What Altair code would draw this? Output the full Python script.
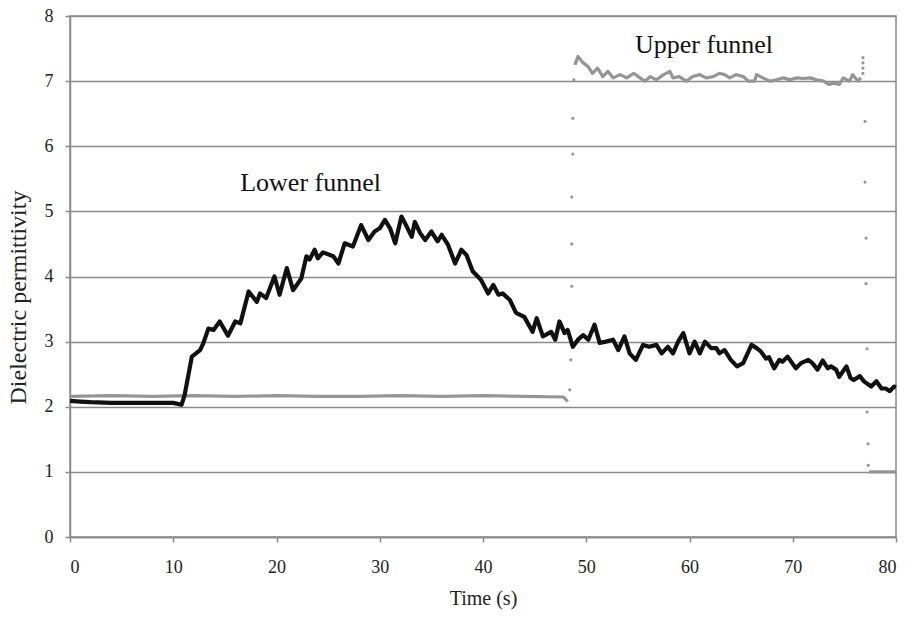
import altair as alt
import pandas as pd

# Lower funnel sensor (black trace): time (s) and permittivity
black_t = [0, 1, 2, 4, 6, 8, 10, 10.8, 11.1, 11.8, 12.6, 12.9, 13.4, 13.9, 14.5, 15.3,
           16.0, 16.5, 17.3, 18.1, 18.4, 19.0, 19.8, 20.3, 21.0, 21.6, 22.4, 22.9, 23.2,
           23.7, 24.0, 24.5, 25.5, 26.0, 26.6, 27.4, 28.2, 28.9, 29.5, 30.0, 30.5, 31.0,
           31.5, 32.1, 32.6, 33.1, 33.4, 33.9, 34.4, 35.0, 35.6, 36.0, 36.6, 37.3, 37.9,
           38.4, 39.0, 39.8, 40.5, 41.0, 41.5, 41.9, 42.6, 43.2, 44.0, 44.8, 45.2, 45.8,
           46.6, 47.0, 47.4, 47.9, 48.2, 48.7, 49.2, 49.7, 50.2, 50.8, 51.3, 51.9, 52.6,
           53.1, 53.7, 54.2, 54.8, 55.5, 56.1, 56.8, 57.3, 57.9, 58.4, 58.9, 59.4, 60.0,
           60.5, 61.0, 61.5, 62.1, 62.6, 62.9, 63.4, 64.0, 64.6, 65.2, 66.0, 66.5, 66.9,
           67.4, 67.7, 68.2, 68.7, 69.0, 69.5, 70.3, 70.8, 71.5, 71.9, 72.4, 72.9, 73.4,
           73.7, 74.2, 74.5, 75.2, 75.6, 75.9, 76.5, 76.9, 77.6, 78.1, 78.6, 79.0, 79.4,
           79.8, 80]
black_v = [2.09, 2.08, 2.07, 2.06, 2.06, 2.06, 2.06, 2.03, 2.18, 2.77, 2.87, 2.97, 3.20, 3.18,
           3.31, 3.09, 3.31, 3.28, 3.77, 3.61, 3.74, 3.67, 4.00, 3.72, 4.13, 3.79, 3.97, 4.31,
           4.26, 4.41, 4.28, 4.37, 4.31, 4.20, 4.51, 4.46, 4.79, 4.56, 4.69, 4.74, 4.87, 4.74,
           4.51, 4.92, 4.77, 4.61, 4.84, 4.67, 4.56, 4.69, 4.54, 4.64, 4.49, 4.20, 4.41, 4.33,
           4.08, 3.95, 3.74, 3.87, 3.72, 3.74, 3.64, 3.44, 3.38, 3.15, 3.36, 3.08, 3.15, 3.03,
           3.31, 3.13, 3.18, 2.92, 3.03, 3.10, 3.03, 3.26, 2.98, 3.00, 3.03, 2.87, 3.08, 2.82,
           2.72, 2.95, 2.92, 2.95, 2.82, 2.92, 2.82, 3.00, 3.13, 2.82, 3.00, 2.82, 3.00, 2.90,
           2.90, 2.82, 2.87, 2.72, 2.62, 2.67, 2.95, 2.90, 2.85, 2.74, 2.76, 2.59, 2.72, 2.69,
           2.77, 2.59, 2.67, 2.72, 2.67, 2.57, 2.71, 2.59, 2.62, 2.57, 2.46, 2.62, 2.44, 2.41,
           2.47, 2.39, 2.31, 2.39, 2.28, 2.28, 2.24, 2.31, 2.30]

# Upper funnel sensor (grey trace), continuous stretches
grey_low_t = [0, 4, 8, 12, 16, 20, 24, 28, 32, 36, 40, 44, 47.8, 48.2]
grey_low_v = [2.16, 2.17, 2.16, 2.17, 2.16, 2.17, 2.16, 2.16, 2.17, 2.16, 2.17, 2.16, 2.15, 2.08]

grey_high_t = [48.9, 49.2, 49.7, 50.2, 50.6, 51.1, 51.6, 52.1, 52.6, 53.3, 53.9, 54.6, 55.2,
               55.7, 56.2, 56.8, 57.5, 58.1, 58.4, 59.0, 59.7, 60.3, 61.0, 61.6, 62.3, 62.9,
               63.4, 63.9, 64.5, 65.2, 65.7, 66.3, 66.5, 67.1, 67.8, 68.4, 69.1, 69.7, 70.4,
               71.0, 71.7, 72.3, 73.0, 73.5, 74.0, 74.5, 74.9, 75.5, 75.8, 76.3, 76.6]
grey_high_v = [7.25, 7.38, 7.28, 7.22, 7.12, 7.20, 7.07, 7.15, 7.05, 7.10, 7.05, 7.12, 7.05,
               7.00, 7.07, 7.02, 7.10, 7.15, 7.05, 7.07, 7.00, 7.07, 7.10, 7.05, 7.07, 7.12,
               7.10, 7.05, 7.10, 7.07, 7.00, 7.00, 7.10, 7.05, 7.00, 7.02, 7.05, 7.02, 7.05,
               7.04, 7.05, 7.02, 7.00, 6.95, 6.97, 6.95, 7.05, 7.00, 7.10, 7.00, 7.05]

grey_end_t = [77.4, 78.5, 80]
grey_end_v = [1.00, 1.00, 1.00]

# Isolated readings while the grey trace switches level
grey_jump_t = [48.4, 48.5, 48.6, 48.6, 48.6, 48.7, 48.7, 48.8,
               76.8, 76.8, 76.8, 76.8, 77.0, 77.0, 77.1, 77.1, 77.2, 77.2, 77.3, 77.3]
grey_jump_v = [2.26, 2.72, 3.85, 4.50, 5.22, 5.88, 6.43, 7.02,
               7.36, 7.28, 7.20, 7.12, 6.38, 5.45, 4.59, 3.89, 2.89, 1.92, 1.43, 1.10]

label_text = ["Lower funnel", "Upper funnel"]
label_t = [23.3, 61.4]
label_v = [5.44, 7.55]

FONT = "Liberation Serif"
BLACK = "#111111"
GREY = "#959595"

black_df = pd.DataFrame({"t": black_t, "v": black_v})
grey_df = pd.concat([
    pd.DataFrame({"t": grey_low_t, "v": grey_low_v, "seg": "low"}),
    pd.DataFrame({"t": grey_high_t, "v": grey_high_v, "seg": "high"}),
    pd.DataFrame({"t": grey_end_t, "v": grey_end_v, "seg": "end"}),
])
jump_df = pd.DataFrame({"t": grey_jump_t, "v": grey_jump_v})
label_df = pd.DataFrame({"text": label_text, "t": label_t, "v": label_v})

x_enc = alt.X(
    "t:Q",
    scale=alt.Scale(domain=[0, 80], nice=False, zero=False),
    axis=alt.Axis(
        title="Time (s)", values=list(range(0, 81, 10)), grid=False, format="d",
        tickSize=5, labelPadding=16, titlePadding=12,
    ),
)
y_enc = alt.Y(
    "v:Q",
    scale=alt.Scale(domain=[0, 8], nice=False),
    axis=alt.Axis(
        title="Dielectric permittivity", values=list(range(0, 9)), grid=True, format="d",
        tickSize=5, labelPadding=12,
        titleX=-52, titleY=281, titleAlign="center", titleBaseline="middle",
        titleFontSize=24,
    ),
)

grey_lines = alt.Chart(grey_df).mark_line(
    color=GREY, strokeWidth=3.2, strokeJoin="round"
).encode(x=x_enc, y=y_enc, detail="seg:N")

grey_dots = alt.Chart(jump_df).mark_circle(color=GREY, size=10, opacity=1).encode(
    x="t:Q", y="v:Q"
)

black_line = alt.Chart(black_df).mark_line(
    color=BLACK, strokeWidth=4.2, strokeJoin="round"
).encode(x="t:Q", y="v:Q")

labels = alt.Chart(label_df).mark_text(
    font=FONT, fontSize=26, color="#111111", align="center", baseline="middle"
).encode(x="t:Q", y="v:Q", text="text:N")

chart = (
    alt.layer(grey_lines, grey_dots, black_line, labels)
    .properties(
        width=826, height=521,
        autosize=alt.AutoSizeParams(type="none"),
        padding={"left": 70, "top": 16, "right": 13, "bottom": 83},
        background="white",
    )
    .configure_view(stroke="#8a8a8a", strokeWidth=1.5)
    .configure_axis(
        labelFont=FONT, titleFont=FONT, labelFontSize=18, titleFontSize=20,
        labelColor="#222222", titleColor="#222222", titleFontWeight="normal",
        domainColor="#8a8a8a", domainWidth=1.5, tickColor="#8a8a8a", tickWidth=1.5,
        gridColor="#8a8a8a", gridWidth=1.5, gridOpacity=1,
    )
)

chart.save("out.html", embed_options={"renderer": "svg", "actions": False})
